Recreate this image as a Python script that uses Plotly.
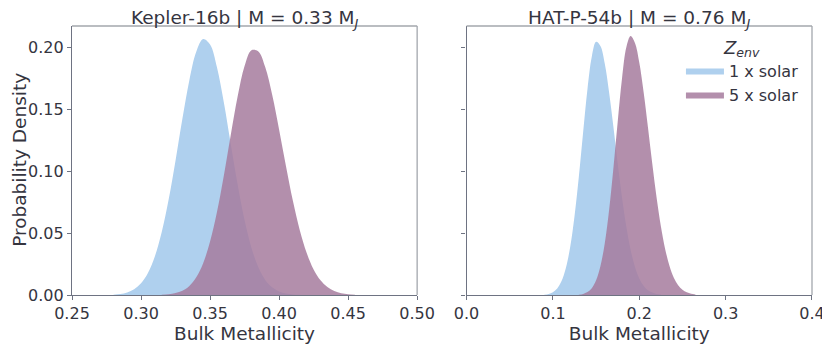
import plotly.graph_objects as go

# Kepler-16b (left panel)
kep_x_1sol = [0.280, 0.285, 0.290, 0.295, 0.300, 0.305, 0.310, 0.315, 0.320, 0.325,
              0.330, 0.335, 0.340, 0.345, 0.350, 0.355, 0.360, 0.365, 0.370, 0.375,
              0.380, 0.385, 0.390, 0.395, 0.400, 0.405, 0.410, 0.415]
kep_y_1sol = [0.0003, 0.0009, 0.0021, 0.0046, 0.0094, 0.0177, 0.0311, 0.0508, 0.0770, 0.1086,
              0.1423, 0.1733, 0.1962, 0.2065, 0.2020, 0.1837, 0.1553, 0.1220, 0.0892, 0.0605,
              0.0382, 0.0224, 0.0122, 0.0062, 0.0029, 0.0013, 0.0005, 0.0002]

kep_x_5sol = [0.315, 0.320, 0.325, 0.330, 0.335, 0.340, 0.345, 0.350, 0.355, 0.360,
              0.365, 0.370, 0.375, 0.380, 0.385, 0.390, 0.395, 0.400, 0.405, 0.410,
              0.415, 0.420, 0.425, 0.430, 0.435, 0.440, 0.445, 0.450, 0.455]
kep_y_5sol = [0.0002, 0.0006, 0.0016, 0.0035, 0.0073, 0.0143, 0.0257, 0.0431, 0.0669, 0.0964,
              0.1291, 0.1603, 0.1847, 0.1975, 0.1965, 0.1837, 0.1615, 0.1336, 0.1039, 0.0760,
              0.0523, 0.0339, 0.0206, 0.0118, 0.0064, 0.0032, 0.0015, 0.0007, 0.0003]

# HAT-P-54b (right panel)
hat_x_1sol = [0.090, 0.095, 0.100, 0.105, 0.110, 0.115, 0.120, 0.125, 0.130, 0.135,
              0.140, 0.145, 0.150, 0.155, 0.160, 0.165, 0.170, 0.175, 0.180, 0.185,
              0.190, 0.195, 0.200, 0.205, 0.210, 0.215, 0.220, 0.225]
hat_y_1sol = [0.0003, 0.0009, 0.0023, 0.0053, 0.0112, 0.0217, 0.0388, 0.0636, 0.0954, 0.1314,
              0.1660, 0.1922, 0.2042, 0.2009, 0.1867, 0.1638, 0.1359, 0.1065, 0.0789, 0.0552,
              0.0365, 0.0228, 0.0134, 0.0075, 0.0039, 0.0020, 0.0009, 0.0004]

hat_x_5sol = [0.130, 0.135, 0.140, 0.145, 0.150, 0.155, 0.160, 0.165, 0.170, 0.175,
              0.180, 0.185, 0.190, 0.195, 0.200, 0.205, 0.210, 0.215, 0.220, 0.225,
              0.230, 0.235, 0.240, 0.245, 0.250, 0.255, 0.260, 0.265]
hat_y_5sol = [0.0003, 0.0009, 0.0024, 0.0055, 0.0119, 0.0232, 0.0416, 0.0681, 0.1020, 0.1395,
              0.1746, 0.1998, 0.2089, 0.2033, 0.1875, 0.1638, 0.1355, 0.1062, 0.0789, 0.0555,
              0.0370, 0.0234, 0.0140, 0.0079, 0.0043, 0.0022, 0.0010, 0.0004]

labels = ["1 x solar", "5 x solar"]
titles = ["Kepler-16b | M = 0.33 M<sub><i>J</i></sub>",
          "HAT-P-54b | M = 0.76 M<sub><i>J</i></sub>"]
left_ticks = [0.25, 0.30, 0.35, 0.40, 0.45, 0.50]
right_ticks = [0.0, 0.1, 0.2, 0.3, 0.4]
y_ticks = [0.00, 0.05, 0.10, 0.15, 0.20]

COLOR_1SOL = "rgba(175,208,238,1)"
COLOR_5SOL = "rgba(166,123,157,0.85)"
TEXT = "#35353f"
SPINE = "#6e7382"
SPINE_LIGHT = "#a3a7ad"
FONT = "DejaVu Sans"

# the page body has an 8px margin, so figure pixels = page pixels - 8
OFF = 8
W, H = 830, 347
ML = 72.3 - OFF
MT = 25.7 - OFF
MB = H - (295.0 - OFF)
MR = W - (812.0 - OFF)
PW, PH = W - ML - MR, H - MT - MB


def px_x(p):
    return (p - OFF - ML) / PW


def px_y(p):
    return (H - MB - (p - OFF)) / PH


dom_left = [0, px_x(417.3)]
dom_right = [px_x(466.7), 1]

fig = go.Figure()

panels = [
    ("x", "y", kep_x_1sol, kep_y_1sol, kep_x_5sol, kep_y_5sol, True),
    ("x2", "y2", hat_x_1sol, hat_y_1sol, hat_x_5sol, hat_y_5sol, False),
]
for xa, ya, x1, y1, x5, y5, first in panels:
    fig.add_trace(go.Scatter(
        x=x1, y=y1, xaxis=xa, yaxis=ya, mode="lines", fill="tozeroy",
        line=dict(width=0, shape="spline", color=COLOR_1SOL), fillcolor=COLOR_1SOL,
        name=labels[0], showlegend=not first, hoverinfo="skip",
    ))
    fig.add_trace(go.Scatter(
        x=x5, y=y5, xaxis=xa, yaxis=ya, mode="lines", fill="tozeroy",
        line=dict(width=0, shape="spline", color=COLOR_5SOL), fillcolor=COLOR_5SOL,
        name=labels[1], showlegend=not first, hoverinfo="skip",
    ))

axis_common = dict(
    showline=True, linecolor=SPINE, linewidth=1.3, mirror=False,
    ticks="outside", ticklen=4, tickwidth=1.2, tickcolor=SPINE,
    showgrid=False, zeroline=False, automargin=False,
    tickfont=dict(family=FONT, size=16, color=TEXT),
)
title_font = dict(family=FONT, size=18.5, color=TEXT)

fig.update_layout(
    width=W, height=H,
    paper_bgcolor="white", plot_bgcolor="white",
    margin=dict(l=ML, r=MR, t=MT, b=MB),
    font=dict(family=FONT, color=TEXT),
    xaxis=dict(domain=dom_left, anchor="y", range=[0.25, 0.5], tickvals=left_ticks,
               tickformat=".2f",
               title=dict(text="Bulk Metallicity", font=title_font, standoff=1),
               **axis_common),
    yaxis=dict(domain=[0, 1], anchor="x", range=[0, 0.217], tickvals=y_ticks,
               tickformat=".2f", **axis_common),
    xaxis2=dict(domain=dom_right, anchor="y2", range=[0, 0.4], tickvals=right_ticks,
                tickformat=".1f",
                title=dict(text="Bulk Metallicity", font=title_font, standoff=1),
                **axis_common),
    yaxis2=dict(domain=[0, 1], anchor="x2", range=[0, 0.217], tickvals=y_ticks,
                showticklabels=False, **axis_common),
    legend=dict(
        x=px_x(681), y=px_y(30), xanchor="left", yanchor="top",
        bgcolor="rgba(255,255,255,0)",
        font=dict(family=FONT, size=16, color=TEXT),
        title=dict(text="<i>Z<sub>env</sub></i>", side="top center",
                   font=dict(family=FONT, size=18, color=TEXT)),
        itemwidth=38, tracegroupgap=0,
    ),
)

# lighter top / right frame lines like the reference
for xr, yr in [("x domain", "y domain"), ("x2 domain", "y2 domain")]:
    fig.add_shape(type="line", xref=xr, yref=yr, x0=0, x1=1, y0=1, y1=1,
                  line=dict(color=SPINE_LIGHT, width=1.3))
    fig.add_shape(type="line", xref=xr, yref=yr, x0=1, x1=1, y0=0, y1=1,
                  line=dict(color=SPINE_LIGHT, width=1.3))

for i, t in enumerate(titles):
    dom = dom_left if i == 0 else dom_right
    fig.add_annotation(
        text=t, xref="paper", yref="paper", x=(dom[0] + dom[1]) / 2, y=px_y(19),
        xanchor="center", yanchor="middle", showarrow=False,
        font=dict(family=FONT, size=18.5, color=TEXT),
    )

# y axis title placed directly, kept inside the page's drawable area
fig.add_annotation(
    text="Probability Density", xref="paper", yref="paper",
    x=px_x(19), y=px_y(160), xanchor="center", yanchor="middle",
    textangle=-90, showarrow=False, font=title_font,
)

fig.write_html("out.html")
